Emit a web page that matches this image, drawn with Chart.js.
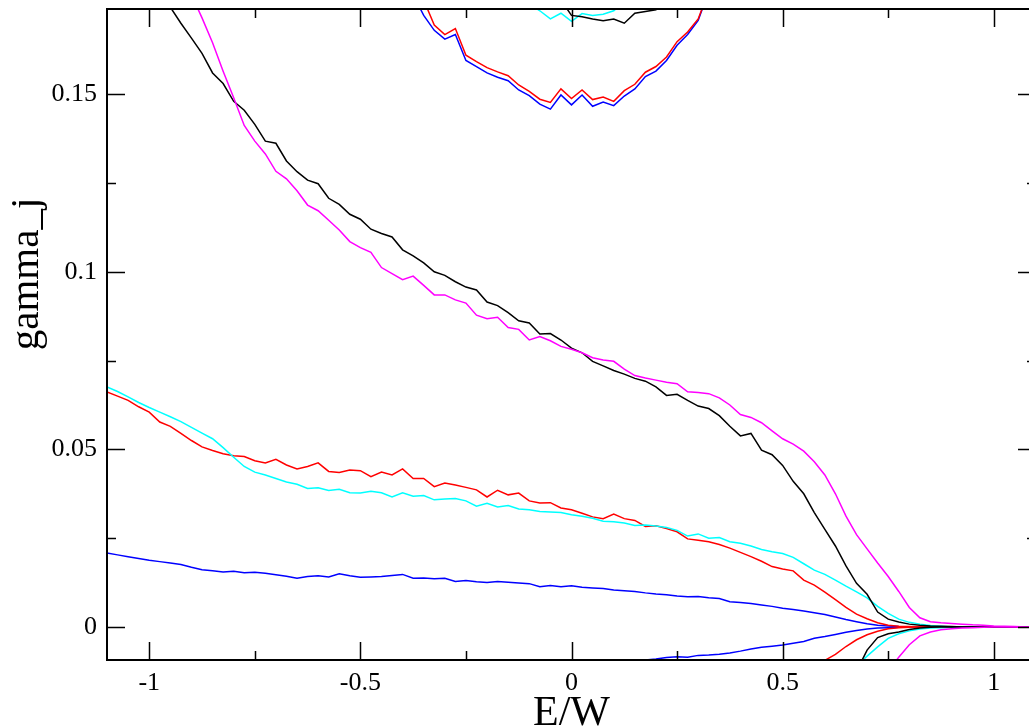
<!DOCTYPE html>
<html>
<head>
<meta charset="utf-8">
<script src="https://cdn.jsdelivr.net/npm/chart.js@4/dist/chart.umd.min.js"></script>
<style>
  html, body { margin: 0; padding: 0; background: #fff; overflow: hidden; }
  #wrap { width: 1037px; height: 727px; }
</style>
</head>
<body>
<div id="wrap"><canvas id="chart" width="1037" height="727"></canvas></div>
<script>
// tick positions / labels
const xTicks = [-1, -0.5, 0, 0.5, 1];
const xTickLabels = ['-1', '-0.5', '0', '0.5', '1'];
const xMinor = [-0.75, -0.25, 0.25, 0.75];
const yTicks = [0, 0.05, 0.1, 0.15];
const yTickLabels = ['0', '0.05', '0.1', '0.15'];
const yMinor = [0.025, 0.075, 0.125];

// E/W grids
const xs = [-1.1, -1.075, -1.05, -1.025, -1.0, -0.975, -0.95, -0.925, -0.9, -0.875,
  -0.85, -0.825, -0.8, -0.775, -0.75, -0.725, -0.7, -0.675, -0.65, -0.625,
  -0.6, -0.575, -0.55, -0.525, -0.5, -0.475, -0.45, -0.425, -0.4, -0.375,
  -0.35, -0.325, -0.3, -0.275, -0.25, -0.225, -0.2, -0.175, -0.15, -0.125,
  -0.1, -0.075, -0.05, -0.025, 0, 0.025, 0.05, 0.075, 0.1, 0.125,
  0.15, 0.175, 0.2, 0.225, 0.25, 0.275, 0.3, 0.325, 0.35, 0.375,
  0.4, 0.425, 0.45, 0.475, 0.5, 0.525, 0.55, 0.575, 0.6, 0.625,
  0.65, 0.675, 0.7, 0.725, 0.75, 0.775, 0.8, 0.825, 0.85, 0.875,
  0.9, 0.925, 0.95, 0.975, 1.0, 1.025, 1.05, 1.075, 1.1];
const xsMid = [-0.375, -0.35, -0.325, -0.3, -0.275, -0.25, -0.225, -0.2, -0.175, -0.15,
  -0.125, -0.1, -0.075, -0.05, -0.025, 0, 0.025, 0.05, 0.075, 0.1,
  0.125, 0.15, 0.175, 0.2, 0.225, 0.25, 0.275, 0.3, 0.325];
const xsRight = [0.15, 0.175, 0.2, 0.225, 0.25, 0.275, 0.3, 0.325, 0.35, 0.375,
  0.4, 0.425, 0.45, 0.475, 0.5, 0.525, 0.55, 0.575, 0.6, 0.625,
  0.65, 0.675, 0.7, 0.725, 0.75, 0.775, 0.8, 0.825, 0.85, 0.875,
  0.9, 0.925, 0.95, 0.975, 1.0, 1.025, 1.05, 1.075, 1.1];

// upper branches (on xs)
const blackUpper = [null, null, null, null, null, 0.179, 0.1745, 0.170, 0.1658, 0.1615,
  0.156, 0.153, 0.148, 0.1455, 0.1415, 0.1368, 0.1362, 0.1312, 0.1282, 0.1258,
  0.1248, 0.1207, 0.119, 0.1162, 0.1148, 0.112, 0.1108, 0.1098, 0.1062, 0.1045,
  0.1025, 0.1, 0.099, 0.0972, 0.0957, 0.0949, 0.0915, 0.0905, 0.0885, 0.0862,
  0.0856, 0.0825, 0.0826, 0.0808, 0.0785, 0.0772, 0.0748, 0.0735, 0.0722, 0.0712,
  0.070, 0.0692, 0.0676, 0.0652, 0.0655, 0.0638, 0.0622, 0.0615, 0.0595, 0.0565,
  0.0538, 0.0545, 0.0498, 0.0485, 0.0455, 0.041, 0.0375, 0.0322, 0.0275, 0.0228,
  0.0172, 0.0123, 0.0092, 0.0042, 0.0022, 0.0014, 0.0008, 0.0005, 0.0003, 0.0002,
  0.0001, 0, 0, 0, 0, 0, 0, 0, 0];
const magentaUpper = [null, null, null, null, null, null, null, null, 0.178, 0.1715,
  0.1645, 0.1565, 0.149, 0.1412, 0.1368, 0.1332, 0.1283, 0.1262, 0.1228, 0.1188,
  0.1172, 0.1145, 0.1118, 0.1085, 0.1068, 0.1055, 0.1012, 0.0995, 0.0978, 0.0988,
  0.0962, 0.0935, 0.0935, 0.0921, 0.0912, 0.0878, 0.0868, 0.0872, 0.0843, 0.0838,
  0.0808, 0.0818, 0.0806, 0.079, 0.0782, 0.0772, 0.0758, 0.0752, 0.0748, 0.0726,
  0.0708, 0.0701, 0.0695, 0.0689, 0.0685, 0.0662, 0.066, 0.0657, 0.0645, 0.0625,
  0.0598, 0.059, 0.0575, 0.0552, 0.053, 0.0515, 0.0495, 0.0465, 0.0428, 0.0375,
  0.0312, 0.026, 0.022, 0.018, 0.0142, 0.01, 0.0055, 0.0026, 0.0015, 0.0012,
  0.001, 0.0008, 0.0006, 0.0005, 0.0003, 0.0002, 0.0001, 0, 0];
const redUpper = [0.0662, 0.065, 0.0638, 0.062, 0.0605, 0.0577, 0.0565, 0.0545, 0.0525, 0.0507,
  0.0497, 0.0488, 0.0482, 0.048, 0.0468, 0.0462, 0.0472, 0.0456, 0.0445, 0.0452,
  0.0462, 0.0438, 0.0435, 0.0442, 0.044, 0.0423, 0.0436, 0.0428, 0.0445, 0.0418,
  0.0418, 0.0395, 0.0405, 0.04, 0.0393, 0.0386, 0.0366, 0.0385, 0.0372, 0.0377,
  0.0355, 0.0349, 0.035, 0.0335, 0.033, 0.032, 0.031, 0.0305, 0.0318, 0.0305,
  0.03, 0.0283, 0.0285, 0.0277, 0.0268, 0.0248, 0.0244, 0.024, 0.0232, 0.0222,
  0.021, 0.0198, 0.0185, 0.017, 0.0163, 0.0158, 0.0132, 0.0118, 0.0098, 0.0077,
  0.0055, 0.0036, 0.0023, 0.0012, 0.0005, 0.0002, 0.0001, 0, 0, 0,
  0, 0, 0, 0, 0, 0, 0, 0, 0];
const cyanUpper = [0.0676, 0.0663, 0.0648, 0.0632, 0.0618, 0.0605, 0.0592, 0.0578, 0.0562, 0.0546,
  0.053, 0.0505, 0.0478, 0.0452, 0.0436, 0.0428, 0.0418, 0.0408, 0.0402, 0.039,
  0.0392, 0.0384, 0.0388, 0.0378, 0.0377, 0.0382, 0.0378, 0.0366, 0.0378, 0.0368,
  0.037, 0.0358, 0.036, 0.0362, 0.0355, 0.034, 0.0348, 0.0338, 0.0342, 0.0332,
  0.033, 0.0325, 0.0324, 0.0322, 0.0316, 0.0312, 0.0306, 0.0298, 0.0296, 0.0293,
  0.0286, 0.0287, 0.0284, 0.028, 0.0272, 0.0256, 0.0262, 0.025, 0.0252, 0.024,
  0.0236, 0.0228, 0.0218, 0.0212, 0.0207, 0.0196, 0.0178, 0.016, 0.0148, 0.0132,
  0.0115, 0.0099, 0.0082, 0.0058, 0.0038, 0.0022, 0.0013, 0.0008, 0.0004, 0.0002,
  0, 0, 0, 0, 0, 0, 0, 0, 0];
const blueUpper = [0.0208, 0.0203, 0.0198, 0.0193, 0.0188, 0.0184, 0.018, 0.0176, 0.0168, 0.0161,
  0.0158, 0.0155, 0.0157, 0.0153, 0.0154, 0.0151, 0.0147, 0.0143, 0.0137, 0.0142,
  0.0144, 0.0141, 0.015, 0.0144, 0.014, 0.0141, 0.0142, 0.0145, 0.0148, 0.0137,
  0.0138, 0.0136, 0.0137, 0.0128, 0.0131, 0.0127, 0.0125, 0.0128, 0.0126, 0.0124,
  0.0122, 0.0113, 0.0117, 0.0113, 0.0116, 0.0112, 0.011, 0.0108, 0.0104, 0.0102,
  0.01, 0.0096, 0.0093, 0.0091, 0.0087, 0.0085, 0.0086, 0.0082, 0.008, 0.0071,
  0.0069, 0.0066, 0.0062, 0.0058, 0.0053, 0.0049, 0.0045, 0.004, 0.0035, 0.0028,
  0.0021, 0.0015, 0.0009, 0.0005, 0.0003, 0.0001, 0, 0, 0, 0,
  0, 0, 0, 0, 0, 0, 0, 0, 0];

// arcs near the top (on xsMid)
const redArc = [null, 0.1765, 0.1695, 0.1668, 0.1685, 0.161, 0.1592, 0.1575, 0.1563, 0.1552,
  0.1526, 0.1508, 0.1486, 0.1477, 0.1515, 0.1488, 0.1512, 0.1485, 0.1492, 0.148,
  0.151, 0.1528, 0.1562, 0.1578, 0.1605, 0.1648, 0.1675, 0.1712, 0.179];
const blueArc = [0.178, 0.1722, 0.168, 0.1655, 0.1668, 0.1595, 0.1578, 0.156, 0.1548, 0.1538,
  0.1512, 0.1496, 0.1472, 0.1458, 0.1498, 0.147, 0.1498, 0.1466, 0.1478, 0.1468,
  0.1495, 0.1515, 0.155, 0.1565, 0.1595, 0.1638, 0.1668, 0.1708, 0.179];
const cyanArc = [null, null, null, null, null, null, null, null, null, null,
  null, 0.1755, 0.1735, 0.1712, 0.1728, 0.1705, 0.1727, 0.1722, 0.1725, 0.1735,
  0.176, null, null, null, null, null, null, null, null];
const blackArc = [null, null, null, null, null, null, null, null, null, null,
  null, null, null, null, 0.1765, 0.1722, 0.1718, 0.1712, 0.1707, 0.1712,
  0.170, 0.1728, 0.1733, 0.1738, 0.1762, null, null, null, null];

// lower branches (on xsRight)
const blackLower = [null, null, null, null, null, null, null, null, null, null,
  null, null, null, null, null, null, null, null, null, null,
  null, -0.0125, -0.0065, -0.003, -0.0019, -0.0014, -0.0007, -0.0003, -0.0001, 0,
  0, 0, 0, 0, 0, 0, 0, 0, 0];
const magentaLower = [null, null, null, null, null, null, null, null, null, null,
  null, null, null, null, null, null, null, null, null, null,
  null, null, null, null, -0.0125, -0.0085, -0.005, -0.0025, -0.0014, -0.0008,
  -0.0005, -0.0003, -0.0002, -0.0001, 0, 0, 0, 0, 0];
const redLower = [null, null, null, null, null, null, null, null, null, null,
  null, null, null, null, null, null, null, -0.0118, -0.0094, -0.0077,
  -0.0055, -0.0036, -0.0022, -0.0012, -0.0005, -0.0002, -0.0001, 0, 0, 0,
  0, 0, 0, 0, 0, 0, 0, 0, 0];
const cyanLower = [null, null, null, null, null, null, null, null, null, null,
  null, null, null, null, null, null, null, null, null, null,
  null, -0.011, -0.0082, -0.0056, -0.0032, -0.0019, -0.0011, -0.0006, -0.0003, -0.0002,
  -0.0001, 0, 0, 0, 0, 0, 0, 0, 0];
const blueLower = [-0.0098, -0.0093, -0.009, -0.0086, -0.0084, -0.0085, -0.008, -0.0079, -0.0077, -0.0073,
  -0.0068, -0.0062, -0.0057, -0.0054, -0.0051, -0.0046, -0.0041, -0.0032, -0.0027, -0.0021,
  -0.0015, -0.001, -0.0006, -0.0003, -0.0002, -0.0001, 0, 0, 0, 0,
  0, 0, 0, 0, 0, 0, 0, 0, 0];

const BLACK = '#000000', RED = '#ff0000', BLUE = '#0000ff', CYAN = '#00ffff', MAGENTA = '#ff00ff';
const SERIF = "'Liberation Serif', 'Times New Roman', serif";

function line(xArr, yArr, color) {
    return {
        data: xArr.map((x, i) => ({ x: x, y: yArr[i] })),
        borderColor: color,
        borderWidth: 1.5,
        pointRadius: 0,
        tension: 0,
        spanGaps: false,
        fill: false
    };
}

// first dataset is drawn on top
const datasets = [
    line(xs, magentaUpper, MAGENTA),
    line(xsRight, magentaLower, MAGENTA),
    line(xs, blackUpper, BLACK),
    line(xsRight, blackLower, BLACK),
    line(xsMid, blackArc, BLACK),
    line(xs, cyanUpper, CYAN),
    line(xsRight, cyanLower, CYAN),
    line(xsMid, cyanArc, CYAN),
    line(xs, redUpper, RED),
    line(xsRight, redLower, RED),
    line(xsMid, redArc, RED),
    line(xs, blueUpper, BLUE),
    line(xsRight, blueLower, BLUE),
    line(xsMid, blueArc, BLUE)
];

// frame with inward ticks, plus axis titles
const framePlugin = {
    id: 'frame',
    afterDraw(chart) {
        const { ctx, chartArea: a, scales: { x, y } } = chart;
        ctx.save();
        ctx.strokeStyle = '#000';
        ctx.lineWidth = 2;
        ctx.strokeRect(a.left, a.top, a.right - a.left, a.bottom - a.top);

        ctx.lineWidth = 1.5;
        ctx.beginPath();
        const xt = (v, len) => {
            const px = Math.round(x.getPixelForValue(v)) + 0.5;
            ctx.moveTo(px, a.bottom); ctx.lineTo(px, a.bottom - len);
            ctx.moveTo(px, a.top); ctx.lineTo(px, a.top + len);
        };
        const yt = (v, len) => {
            const py = Math.round(y.getPixelForValue(v)) + 0.5;
            ctx.moveTo(a.left, py); ctx.lineTo(a.left + len, py);
            ctx.moveTo(a.right, py); ctx.lineTo(a.right - len, py);
        };
        xTicks.forEach(v => xt(v, 18));
        xMinor.forEach(v => xt(v, 9));
        yTicks.forEach(v => yt(v, 18));
        yMinor.forEach(v => yt(v, 9));
        ctx.stroke();

        ctx.fillStyle = '#000';
        ctx.font = '42px ' + SERIF;
        ctx.textAlign = 'center';
        ctx.textBaseline = 'alphabetic';
        ctx.fillText('E/W', (a.left + a.right) / 2, 725);

        ctx.font = '41px ' + SERIF;
        ctx.translate(38, 274);
        ctx.rotate(-Math.PI / 2);
        ctx.fillText('gamma_j', 0, 0);
        ctx.restore();
    }
};

new Chart(document.getElementById('chart'), {
    type: 'line',
    data: { datasets: datasets },
    options: {
        responsive: false,
        animation: false,
        events: [],
        layout: { padding: { left: 0, top: 9, right: 1, bottom: 0 } },
        plugins: { legend: { display: false }, tooltip: { enabled: false } },
        scales: {
            x: {
                type: 'linear',
                min: -1.1,
                max: 1.1,
                grid: { display: false, drawTicks: false },
                border: { display: false },
                afterBuildTicks: s => { s.ticks = xTicks.map(v => ({ value: v })); },
                afterFit: s => { s.height = 67; s.paddingLeft = 0; s.paddingRight = 0; },
                ticks: {
                    color: '#000',
                    padding: 8,
                    maxRotation: 0,
                    autoSkip: false,
                    font: { family: SERIF, size: 26 },
                    callback: (v, i) => xTickLabels[i]
                }
            },
            y: {
                type: 'linear',
                min: -0.0093,
                max: 0.174,
                grid: { display: false, drawTicks: false },
                border: { display: false },
                afterBuildTicks: s => { s.ticks = yTicks.map(v => ({ value: v })); },
                afterFit: s => { s.width = 107; s.paddingTop = 0; s.paddingBottom = 0; },
                ticks: {
                    color: '#000',
                    padding: 10,
                    autoSkip: false,
                    font: { family: SERIF, size: 26 },
                    callback: (v, i) => yTickLabels[i]
                }
            }
        }
    },
    plugins: [framePlugin]
});
</script>
</body>
</html>
